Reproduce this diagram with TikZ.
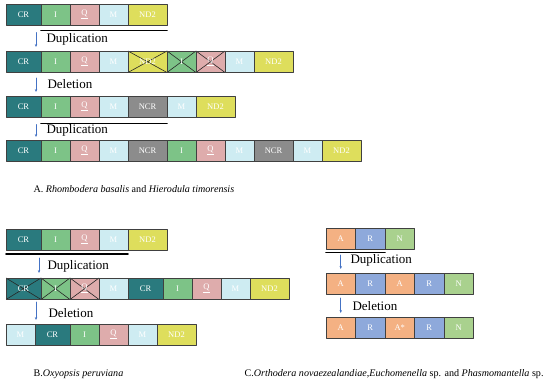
\documentclass[tikz,border=0pt]{standalone}
\usepackage{fontspec}
\setmainfont{Liberation Serif}
\usetikzlibrary{arrows.meta}

\definecolor{crteal}{RGB}{42,122,126}
\definecolor{igreen}{RGB}{125,195,135}
\definecolor{qpink}{RGB}{222,172,172}
\definecolor{mblue}{RGB}{206,236,242}
\definecolor{ndyellow}{RGB}{222,222,92}
\definecolor{ncrgray}{RGB}{140,140,140}
\definecolor{aorange}{RGB}{244,177,131}
\definecolor{rblue}{RGB}{142,169,219}
\definecolor{ngreen}{RGB}{169,209,142}
\definecolor{stepblue}{RGB}{68,114,196}

\tikzset{
  start/.style={inner sep=0pt,outer sep=0pt,minimum size=0pt},
  gene/.style={draw=black!75,line width=0.7pt,inner sep=0pt,outer sep=0pt,
    minimum height=21.5pt,anchor=north west,text=white,
    font=\fontsize{8.5}{9}\selectfont},
  cr/.style={gene,fill=crteal,minimum width=35pt},
  gi/.style={gene,fill=igreen,minimum width=29pt},
  gq/.style={gene,fill=qpink,minimum width=29pt},
  gm/.style={gene,fill=mblue,minimum width=29pt},
  nd/.style={gene,fill=ndyellow,minimum width=39pt},
  ncr/.style={gene,fill=ncrgray,minimum width=39pt},
  ga/.style={gene,fill=aorange,minimum width=29.5pt},
  gr/.style={gene,fill=rblue,minimum width=29.5pt},
  gn/.style={gene,fill=ngreen,minimum width=29.5pt},
  lost/.style={path picture={\draw[black!85,line width=0.6pt]
    (path picture bounding box.north west) -- (path picture bounding box.south east)
    (path picture bounding box.south west) -- (path picture bounding box.north east);}},
  crx/.style={cr,lost},
  gix/.style={gi,lost},
  gqx/.style={gq,lost},
  ndx/.style={nd,lost},
  bar/.style={line width=1.7pt,black},
  stepar/.style={-{Stealth[length=3pt,width=2.4pt]},stepblue,line width=0.6pt},
  stage/.style={anchor=west,font=\fontsize{13}{15}\selectfont},
  caption/.style={anchor=west,font=\fontsize{10.1}{11}\selectfont}
}

\begin{document}
\begin{tikzpicture}[x=1pt,y=-1pt,line cap=round,line join=round]
  \useasboundingbox (0,0) rectangle (550,385);

  % A. Rhombodera / Hierodula
  \node[start] (a1-0) at (6,4) {};
  \foreach \s/\t [count=\i,remember=\i as \j (initially 0)] in
    {cr/CR,gi/I,gq/\underline{Q},gm/M,nd/ND2}
    \node[\s] (a1-\i) at (a1-\j.north east) {\t};
  \node[start] (a2-0) at (6,51) {};
  \foreach \s/\t [count=\i,remember=\i as \j (initially 0)] in
    {cr/CR,gi/I,gq/\underline{Q},gm/M,ndx/ND2,gix/I,gqx/\underline{Q},gm/M,nd/ND2}
    \node[\s] (a2-\i) at (a2-\j.north east) {\t};
  \node[start] (a3-0) at (6,96) {};
  \foreach \s/\t [count=\i,remember=\i as \j (initially 0)] in
    {cr/CR,gi/I,gq/\underline{Q},gm/M,ncr/NCR,gm/M,nd/ND2}
    \node[\s] (a3-\i) at (a3-\j.north east) {\t};
  \node[start] (a4-0) at (6,140) {};
  \foreach \s/\t [count=\i,remember=\i as \j (initially 0)] in
    {cr/CR,gi/I,gq/\underline{Q},gm/M,ncr/NCR,gi/I,gq/\underline{Q},gm/M,ncr/NCR,gm/M,nd/ND2}
    \node[\s] (a4-\i) at (a4-\j.north east) {\t};

  \draw[bar] ([yshift=-5pt]a1-2.south west) -- ([yshift=-5pt]a1-5.south east);
  \draw[bar] ([yshift=-6pt]a3-2.south west) -- ([yshift=-6pt]a3-5.south east);
  \draw[stepar] ([xshift=-5pt,yshift=-7pt]a1-1.south east) -- ([xshift=-5pt,yshift=4pt]a2-1.north east);
  \draw[stepar] ([xshift=-5pt,yshift=-5.5pt]a2-1.south east) -- ([xshift=-5pt,yshift=4pt]a3-1.north east);
  \draw[stepar] ([xshift=-5pt,yshift=-7pt]a3-1.south east) -- ([xshift=-5pt,yshift=3pt]a4-1.north east);
  \node[stage] (dupa1) at (43,39) {Duplication};
  \node[stage] (dela) at (44,84) {Deletion};
  \node[stage] (dupa2) at (43,130) {Duplication};
  \node[caption] (capa) at (30,189) {A. \textit{Rhombodera basalis} and \textit{Hierodula timorensis}};

  % B. Oxyopsis
  \node[start] (b1-0) at (6,229) {};
  \foreach \s/\t [count=\i,remember=\i as \j (initially 0)] in
    {cr/CR,gi/I,gq/\underline{Q},gm/M,nd/ND2}
    \node[\s] (b1-\i) at (b1-\j.north east) {\t};
  \node[start] (b2-0) at (6,278) {};
  \foreach \s/\t [count=\i,remember=\i as \j (initially 0)] in
    {crx/CR,gix/I,gqx/\underline{Q},gm/M,cr/CR,gi/I,gq/\underline{Q},gm/M,nd/ND2}
    \node[\s] (b2-\i) at (b2-\j.north east) {\t};
  \node[start] (b3-0) at (6,324) {};
  \foreach \s/\t [count=\i,remember=\i as \j (initially 0)] in
    {gm/M,cr/CR,gi/I,gq/\underline{Q},gm/M,nd/ND2}
    \node[\s] (b3-\i) at (b3-\j.north east) {\t};

  \draw[bar] ([yshift=-3.5pt]b1-1.south west) -- ([yshift=-3.5pt]b1-4.south east);
  \draw[stepar] ([xshift=-2pt,yshift=-7.5pt]b1-1.south east) -- ([xshift=-2pt,yshift=5pt]b2-1.north east);
  \draw[stepar] ([xshift=-5pt,yshift=-2.5pt]b2-1.south east) -- ([xshift=1pt,yshift=4pt]b3-1.north east);
  \node[stage] (dupb) at (44,266) {Duplication};
  \node[stage] (delb) at (45,313) {Deletion};
  \node[caption] (capb) at (30,374) {B.\textit{Oxyopsis peruviana}};

  % C. Orthodera / Euchomenella / Phasmomantella
  \node[start] (c1-0) at (326,228) {};
  \foreach \s/\t [count=\i,remember=\i as \j (initially 0)] in {ga/A,gr/R,gn/N}
    \node[\s] (c1-\i) at (c1-\j.north east) {\t};
  \node[start] (c2-0) at (326,273) {};
  \foreach \s/\t [count=\i,remember=\i as \j (initially 0)] in {ga/A,gr/R,ga/A,gr/R,gn/N}
    \node[\s] (c2-\i) at (c2-\j.north east) {\t};
  \node[start] (c3-0) at (326,317) {};
  \foreach \s/\t [count=\i,remember=\i as \j (initially 0)] in {ga/A,gr/R,ga/A*,gr/R,gn/N}
    \node[\s] (c3-\i) at (c3-\j.north east) {\t};

  \draw[bar] ([yshift=-3pt]c1-1.south west) -- ([yshift=-3pt]c1-2.south east);
  \draw[stepar] ([yshift=-5.5pt]c1-1.south) -- ([yshift=4pt]c2-1.north);
  \draw[stepar] ([yshift=-3.5pt]c2-1.south) -- ([yshift=4pt]c3-1.north);
  \node[stage] (dupc) at (347,260) {Duplication};
  \node[stage] (delc) at (349,306) {Deletion};
  \node[caption] (capc) at (241,374) {C.\textit{Orthodera novaezealandiae},\textit{Euchomenella} sp. and \textit{Phasmomantella} sp.};
\end{tikzpicture}
\end{document}
